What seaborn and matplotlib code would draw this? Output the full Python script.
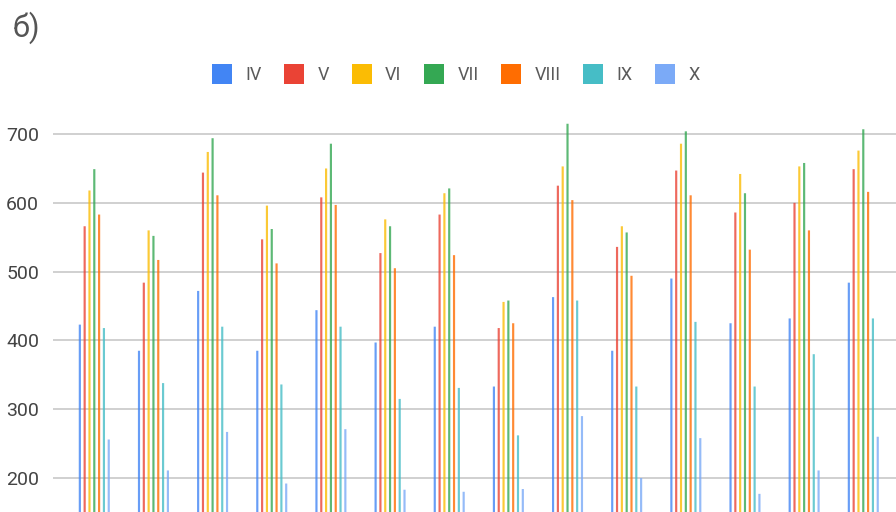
import pandas as pd
import matplotlib
matplotlib.use("Agg")
import matplotlib.pyplot as plt
import seaborn as sns

# series names (grades) and their colours
grades = ["IV", "V", "VI", "VII", "VIII", "IX", "X"]
colors = ["#4285F4", "#EA4335", "#FBBC04", "#34A853", "#FF6D01", "#46BDC6", "#7BAAF7"]

# 14 groups, values
groups = list(range(1, 15))
iv = [423, 385, 472, 385, 444, 397, 420, 333, 463, 385, 490, 425, 432, 484]
v = [566, 484, 644, 547, 608, 527, 583, 418, 625, 536, 647, 586, 600, 649]
vi = [618, 560, 674, 596, 650, 576, 614, 456, 653, 566, 686, 642, 653, 676]
vii = [649, 552, 694, 562, 686, 566, 621, 458, 715, 557, 704, 614, 658, 707]
viii = [583, 517, 611, 512, 597, 505, 524, 425, 604, 494, 611, 532, 560, 616]
ix = [418, 338, 420, 336, 420, 315, 331, 262, 458, 333, 427, 333, 380, 432]
x_ = [256, 211, 267, 192, 271, 183, 180, 184, 290, 200, 258, 177, 211, 260]

series = [iv, v, vi, vii, viii, ix, x_]
rows = []
for name, vals in zip(grades, series):
    for g, val in zip(groups, vals):
        rows.append({"group": g, "grade": name, "value": val})
df = pd.DataFrame(rows)

sns.set_style("white")
plt.rcParams["font.family"] = ["Roboto", "DejaVu Sans"]

fig = plt.figure(figsize=(8.96, 5.12), dpi=100)
ax = fig.add_axes([53 / 896, 0, 843 / 896, 402 / 512])

sns.barplot(data=df, x="group", y="value", hue="grade", hue_order=grades,
            palette=colors, saturation=1, width=0.57, gap=0.55,
            linewidth=0, ax=ax, legend=True)
# thin bars: no snapping, slightly faded like the original
for p in ax.patches:
    p.set_snap(False)
    p.set_alpha(0.8)

ax.set_ylim(150.6, 735)
ax.set_xlim(-0.698, 13.553)
ax.set_yticks([200, 300, 400, 500, 600, 700])
ax.yaxis.grid(True, color="#d0d0d0", linewidth=1.4)
ax.set_axisbelow(True)
ax.set_xticks([])
ax.set_xlabel("")
ax.set_ylabel("")
ax.tick_params(axis="y", length=0, labelsize=14, labelcolor="#444444", pad=10)
for s in ax.spines.values():
    s.set_visible(False)

handles, labels = ax.get_legend_handles_labels()
ax.legend_.remove()
leg = fig.legend(handles, labels, loc="center", bbox_to_anchor=(456 / 896, 1 - 74 / 512),
                 ncol=7, frameon=False, fontsize=13, labelcolor="#5a5a5a",
                 handlelength=1.1, handleheight=1.3, handletextpad=0.75, columnspacing=1.25)
for h in leg.legend_handles:
    h.set_alpha(1)

fig.text(12 / 896, 1 - 28 / 512, "б)", fontsize=22, color="#555555", va="center", ha="left")

fig.savefig("out.png", dpi=100)
